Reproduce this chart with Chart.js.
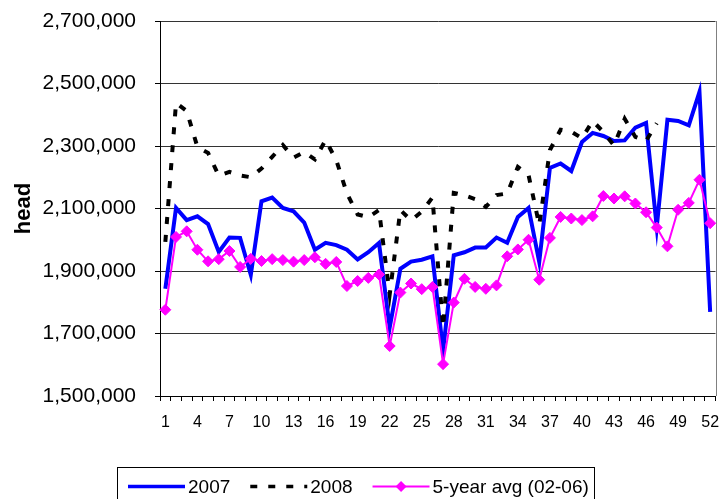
<!DOCTYPE html>
<html>
<head>
<meta charset="utf-8">
<script src="https://cdn.jsdelivr.net/npm/chart.js@4.4.1/dist/chart.umd.min.js"></script>
<style>
  html, body { margin: 0; padding: 0; background: #ffffff; }
  canvas { display: block; background: #ffffff; }
</style>
</head>
<body>
<canvas id="c" width="722" height="499"></canvas>
<script>
const weeks = ['1','2','3','4','5','6','7','8','9','10','11','12','13','14','15','16','17','18','19','20','21','22','23','24','25','26','27','28','29','30','31','32','33','34','35','36','37','38','39','40','41','42','43','44','45','46','47','48','49','50','51','52'];

const series2007 = [1843000, 2102000, 2063000, 2075000, 2050000, 1961000, 2007000, 2006000, 1888000, 2123000,
  2135000, 2102000, 2091000, 2055000, 1968000, 1990000, 1983000, 1968000, 1937000, 1960000,
  1990000, 1719000, 1907000, 1930000, 1936000, 1947000, 1646000, 1950000, 1960000, 1975000,
  1975000, 2007000, 1990000, 2073000, 2102000, 1929000, 2230000, 2244000, 2220000, 2313000,
  2342000, 2332000, 2316000, 2318000, 2359000, 2374000, 2040000, 2384000, 2380000, 2366000,
  2473000, 1769000];

const series2008 = [1993000, 2438000, 2412000, 2297000, 2278000, 2205000, 2217000, 2206000, 2200000, 2228000,
  2265000, 2303000, 2263000, 2281000, 2257000, 2319000, 2255000, 2148000, 2081000, 2072000,
  2095000, 1825000, 2095000, 2062000, 2090000, 2135000, 1720000, 2150000, 2142000, 2130000,
  2105000, 2143000, 2148000, 2233000, 2207000, 2047000, 2287000, 2352000, 2346000, 2325000,
  2380000, 2345000, 2302000, 2387000, 2329000, 2316000, 2373000, null, null, null,
  null, null];

const seriesAvg = [1776000, 2009000, 2027000, 1968000, 1931000, 1938000, 1964000, 1913000, 1939000, 1932000,
  1938000, 1935000, 1930000, 1935000, 1944000, 1923000, 1929000, 1852000, 1868000, 1878000,
  1889000, 1660000, 1831000, 1860000, 1842000, 1849000, 1602000, 1799000, 1875000, 1849000,
  1843000, 1854000, 1947000, 1969000, 2000000, 1872000, 2006000, 2073000, 2068000, 2063000,
  2075000, 2140000, 2132000, 2139000, 2116000, 2088000, 2039000, 1979000, 2096000, 2118000,
  2192000, 2053000];

const seriesNames = ['2007', '2008', '5-year avg (02-06)'];
const yMin = 1500000, yMax = 2700000, yStep = 200000;
const yTitle = 'head';

const FONT = '"Liberation Sans", Arial, Helvetica, sans-serif';

const fmt = v => Math.round(v).toString().replace(/\B(?=(\d{3})+(?!\d))/g, ',');

const framePlugin = {
  id: 'frame',
  afterDraw(chart) {
    const ctx = chart.ctx;
    const a = chart.chartArea;
    ctx.save();
    ctx.strokeStyle = '#808080';
    ctx.lineWidth = 1;
    ctx.beginPath();
    ctx.moveTo(Math.round(a.right) + 0.5, a.top);
    ctx.lineTo(Math.round(a.right) + 0.5, a.bottom);
    ctx.stroke();
    ctx.restore();
  }
};

const legendPlugin = {
  id: 'boxLegend',
  afterDraw(chart) {
    const ctx = chart.ctx;
    ctx.save();
    ctx.strokeStyle = '#000';
    ctx.lineWidth = 1;
    ctx.strokeRect(117.5, 467.5, 477, 60);
    const y = 486.5;
    ctx.font = '19px ' + FONT;
    ctx.textBaseline = 'middle';
    ctx.textAlign = 'left';
    let x = 128;
    chart.data.datasets.forEach((ds) => {
      ctx.save();
      ctx.strokeStyle = ds.borderColor;
      ctx.lineWidth = ds.legendLineWidth;
      ctx.setLineDash(ds.borderDash || []);
      ctx.beginPath();
      ctx.moveTo(x, y);
      ctx.lineTo(x + 57, y);
      ctx.stroke();
      if (ds.pointRadius > 0) {
        const cx = x + 28.5, r = ds.pointRadius;
        ctx.setLineDash([]);
        ctx.fillStyle = ds.pointBackgroundColor;
        ctx.beginPath();
        ctx.moveTo(cx - r, y); ctx.lineTo(cx, y - r); ctx.lineTo(cx + r, y); ctx.lineTo(cx, y + r);
        ctx.closePath();
        ctx.fill();
      }
      ctx.restore();
      x += 60;
      ctx.fillStyle = '#000';
      ctx.fillText(ds.label, x, y + 1);
      x += ctx.measureText(ds.label).width + 20;
    });
    ctx.restore();
  }
};

new Chart(document.getElementById('c'), {
  type: 'line',
  data: {
    labels: weeks,
    datasets: [
      {
        label: seriesNames[0], data: series2007,
        borderColor: '#0000FF', backgroundColor: '#0000FF',
        borderWidth: 4, pointRadius: 0, tension: 0, order: 3,
        legendLineWidth: 3.5
      },
      {
        label: seriesNames[1], data: series2008,
        borderColor: '#000000', backgroundColor: '#000000',
        borderWidth: 4, borderDash: [7, 11], pointRadius: 0, tension: 0, order: 2,
        spanGaps: false, legendLineWidth: 3.5
      },
      {
        label: seriesNames[2], data: seriesAvg,
        borderColor: '#FF00FF', backgroundColor: '#FF00FF',
        pointBackgroundColor: '#FF00FF', pointBorderColor: '#FF00FF',
        borderWidth: 2, pointStyle: 'rectRot', pointRadius: 5.5, pointBorderWidth: 1,
        tension: 0, order: 1, legendLineWidth: 2
      }
    ]
  },
  options: {
    responsive: false,
    animation: false,
    devicePixelRatio: 1,
    layout: { padding: { top: 21, right: 4, bottom: 0, left: 0 } },
    plugins: {
      legend: { display: false },
      tooltip: { enabled: false }
    },
    scales: {
      x: {
        type: 'category',
        offset: true,
        grid: { offset: true, drawOnChartArea: false, color: '#000', tickColor: '#000', tickLength: 5 },
        border: { color: '#000', width: 1 },
        ticks: {
          autoSkip: false, maxRotation: 0, minRotation: 0, padding: 12, color: '#000',
          font: { family: FONT, size: 16 },
          callback: (v, i) => (i % 3 === 0 ? weeks[i] : '')
        },
        afterFit: s => { s.height = 103; s.paddingLeft = 0; s.paddingRight = 0; }
      },
      y: {
        min: yMin, max: yMax,
        grid: { color: '#333', tickColor: '#000', tickLength: 5, lineWidth: 1 },
        border: { color: '#000', width: 1 },
        ticks: {
          stepSize: yStep, padding: 19, color: '#000',
          font: { family: FONT, size: 21 },
          callback: v => fmt(v)
        },
        title: {
          display: true, text: yTitle, color: '#000',
          font: { family: FONT, size: 22, weight: 'bold' },
          padding: { top: 11, bottom: 0 }
        },
        afterFit: s => { s.width = 160; s.paddingTop = 0; s.paddingBottom = 0; }
      }
    }
  },
  plugins: [framePlugin, legendPlugin]
});
</script>
</body>
</html>
